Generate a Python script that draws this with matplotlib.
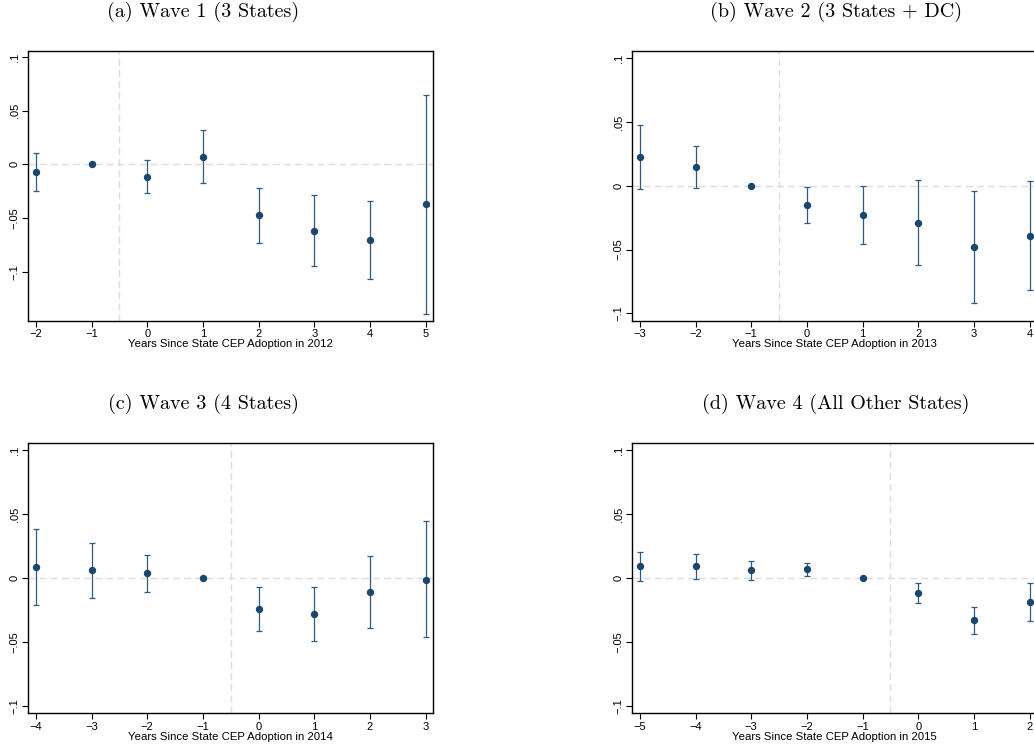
import matplotlib

matplotlib.use("Agg")
import matplotlib.pyplot as plt  # noqa: E402

W, H = 1034, 751
NAVY = "#1a476f"
GRID = "#dcdcdc"

# --- data: event-study coefficients and 95% CI per wave ---
a_years = [-2, -1, 0, 1, 2, 3, 4, 5]
a_coef = [-0.0071, 0.0, -0.0115, 0.0071, -0.0475, -0.0618, -0.0708, -0.0373]
a_lo = [-0.0245, 0.0, -0.0267, -0.0177, -0.0736, -0.0944, -0.1071, -0.1394]
a_hi = [0.0102, 0.0, 0.0037, 0.0323, -0.0217, -0.0289, -0.0345, 0.0643]

b_years = [-3, -2, -1, 0, 1, 2, 3, 4]
b_coef = [0.0224, 0.0148, 0.0, -0.0154, -0.0229, -0.0289, -0.0482, -0.0391]
b_lo = [-0.0026, -0.0016, 0.0, -0.0292, -0.0456, -0.0620, -0.0922, -0.0813]
b_hi = [0.0474, 0.0313, 0.0, -0.0010, 0.0000, 0.0042, -0.0042, 0.0039]

c_years = [-4, -3, -2, -1, 0, 1, 2, 3]
c_coef = [0.0083, 0.0063, 0.0036, 0.0, -0.0240, -0.0281, -0.0109, -0.0013]
c_lo = [-0.0214, -0.0154, -0.0109, 0.0, -0.0414, -0.0497, -0.0388, -0.0466]
c_hi = [0.0380, 0.0276, 0.0182, 0.0, -0.0068, -0.0068, 0.0174, 0.0443]

d_years = [-5, -4, -3, -2, -1, 0, 1, 2]
d_coef = [0.0091, 0.0091, 0.0060, 0.0068, 0.0, -0.0117, -0.0331, -0.0188]
d_lo = [-0.0023, -0.0005, -0.0013, 0.0018, 0.0, -0.0193, -0.0438, -0.0336]
d_hi = [0.0203, 0.0190, 0.0135, 0.0117, 0.0, -0.0039, -0.0224, -0.0036]

titles = ["(a) Wave 1 (3 States)", "(b) Wave 2 (3 States + DC)",
          "(c) Wave 3 (4 States)", "(d) Wave 4 (All Other States)"]
adopt_years = [2012, 2013, 2014, 2015]
yticks = [-0.1, -0.05, 0, 0.05, 0.1]
ytick_labels = ["\u2212.1", "\u2212.05", "0", ".05", ".1"]


def fmt_x(v):
    return f"\u2212{abs(v)}" if v < 0 else str(v)


def add_panel(fig, box, years, coef, lo, hi, year, ylim):
    left, top, right, bottom = box
    ax = fig.add_axes([left / W, 1 - bottom / H, (right - left) / W, (bottom - top) / H])
    ax.axhline(0, color=GRID, lw=1.0, ls=(0, (5, 3)), zorder=0)
    ax.axvline(-0.5, color=GRID, lw=1.0, ls=(0, (5, 3)), zorder=0)
    for x, c, l, h in zip(years, coef, lo, hi):
        if l != h:
            ax.errorbar([x], [c], yerr=[[c - l], [h - c]], fmt="none",
                        ecolor="#2f5a82", elinewidth=0.9, capsize=2.3, capthick=0.9)
    ax.plot(years, coef, "o", color=NAVY, ms=4.3, zorder=3)
    ax.set_xlim(years[0] - 0.14, years[-1] + 0.13)
    ax.set_ylim(*ylim)
    ax.set_xticks(years)
    ax.set_xticklabels([fmt_x(v) for v in years])
    ax.set_yticks(yticks)
    ax.set_yticklabels(ytick_labels, rotation=90, va="center")
    ax.tick_params(length=4, width=0.8, labelsize=8, pad=2, colors="black")
    for sp in ax.spines.values():
        sp.set_linewidth(1.0)
    ax.set_xlabel(f"Years Since State CEP Adoption in {year}", fontsize=8.2, labelpad=0)
    for t in ax.get_xticklabels() + ax.get_yticklabels() + [ax.xaxis.label]:
        t.set_family("Liberation Sans")
    return ax


fig = plt.figure(figsize=(W / 100, H / 100), dpi=100)
fig.patch.set_facecolor("white")

panels = [
    ((28, 50.7, 433, 321), a_years, a_coef, a_lo, a_hi, (-0.146, 0.106)),
    ((632, 50.7, 1037, 321), b_years, b_coef, b_lo, b_hi, (-0.106, 0.106)),
    ((28, 442.7, 433, 713.3), c_years, c_coef, c_lo, c_hi, (-0.106, 0.106)),
    ((632, 442.7, 1037, 713.3), d_years, d_coef, d_lo, d_hi, (-0.106, 0.106)),
]
title_pos = [(203, 12), (836, 12), (203, 404), (836, 404)]

for (box, yrs, c, l, h, yl), year, title, (tx, ty) in zip(panels, adopt_years, titles, title_pos):
    add_panel(fig, box, yrs, c, l, h, year, yl)
    fig.text(tx / W, 1 - ty / H, title, ha="center", va="center",
             fontsize=14.5, family="cmr10")

fig.savefig("out.png", dpi=100, facecolor="white")
